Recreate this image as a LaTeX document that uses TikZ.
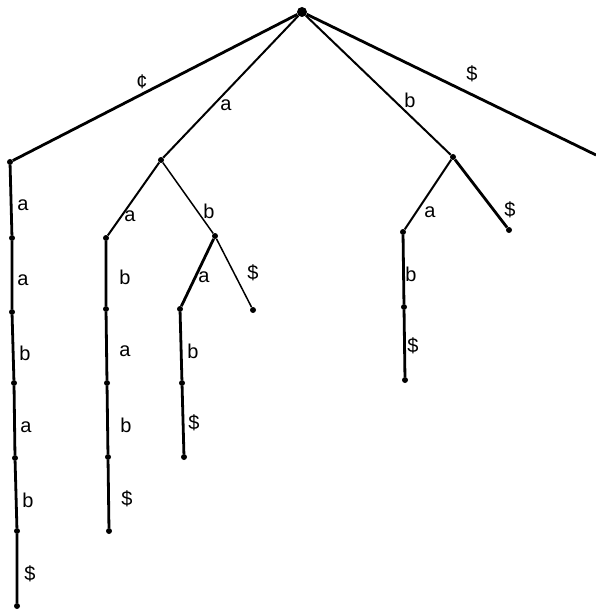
\documentclass[tikz,border=0pt]{standalone}
\usepackage{fontspec}
\setmainfont{Liberation Sans}
\begin{document}
\begin{tikzpicture}[x=1pt,y=-1pt,
  dot/.style={circle,fill=black,inner sep=0pt,minimum size=6pt},
  rootdot/.style={circle,fill=black,inner sep=0pt,minimum size=10pt},
  lbl/.style={font=\fontsize{20}{22}\selectfont,inner sep=0pt},
  heavy/.style={line width=2.8pt},
  medium/.style={line width=2pt},
  light/.style={line width=1.5pt}]
\useasboundingbox (0,0) rectangle (595,612);

% root and its children
\node[rootdot] (r) at (302,12) {};
\node[dot] (c) at (10,162) {};
\node[dot] (A) at (161,160) {};
\node[dot] (B) at (453,157) {};
\coordinate (D) at (596,155);

% chain below the cent edge
\node[dot] (c1) at (12,238) {};
\node[dot] (c2) at (12,312) {};
\node[dot] (c3) at (14,383) {};
\node[dot] (c4) at (15,458) {};
\node[dot] (c5) at (17,531) {};
\node[dot] (c6) at (17,606) {};

% subtree under a
\node[dot] (Aa) at (106,238) {};
\node[dot] (Ab) at (215,236) {};
\node[dot] (Aa1) at (106,309) {};
\node[dot] (Aa2) at (107,383) {};
\node[dot] (Aa3) at (108,457) {};
\node[dot] (Aa4) at (109,531) {};
\node[dot] (Aba) at (180,309) {};
\node[dot] (Abd) at (253,310) {};
\node[dot] (Aba1) at (182,383) {};
\node[dot] (Aba2) at (184,457) {};

% subtree under b
\node[dot] (Ba) at (403,232) {};
\node[dot] (Bd) at (509,230) {};
\node[dot] (Ba1) at (404,307) {};
\node[dot] (Ba2) at (405,380) {};

% edges
\draw[heavy] (r) -- (c);
\draw[medium] (r) -- (A);
\draw[medium] (r) -- (B);
\draw[heavy] (r) -- (D);

\draw[heavy] (c) -- (c1) -- (c2) -- (c3) -- (c4) -- (c5) -- (c6);

\draw[medium] (A) -- (Aa);
\draw[light] (A) -- (Ab);
\draw[heavy] (Aa) -- (Aa1) -- (Aa2) -- (Aa3) -- (Aa4);
\draw[heavy] (Ab) -- (Aba);
\draw[light] (Ab) -- (Abd);
\draw[heavy] (Aba) -- (Aba1) -- (Aba2);

\draw[medium] (B) -- (Ba);
\draw[heavy] (B) -- (Bd);
\draw[heavy] (Ba) -- (Ba1) -- (Ba2);

% edge labels
\node[lbl] (lc) at (142,82) {¢};
\node[lbl] (lA) at (226,105) {a};
\node[lbl] (lB) at (410,100) {b};
\node[lbl] (lD) at (472,74) {\$};

\node[lbl] (lc1) at (23,205) {a};
\node[lbl] (lc2) at (23,280) {a};
\node[lbl] (lc3) at (25,353) {b};
\node[lbl] (lc4) at (26,427) {a};
\node[lbl] (lc5) at (28,500) {b};
\node[lbl] (lc6) at (30,574) {\$};

\node[lbl] (lAa) at (130,216) {a};
\node[lbl] (lAb) at (209,211) {b};
\node[lbl] (lAa1) at (125,277) {b};
\node[lbl] (lAa2) at (125,351) {a};
\node[lbl] (lAa3) at (126,425) {b};
\node[lbl] (lAa4) at (127,499) {\$};
\node[lbl] (lAba) at (204,277) {a};
\node[lbl] (lAbd) at (253,273) {\$};
\node[lbl] (lAba1) at (193,351) {b};
\node[lbl] (lAba2) at (194,423) {\$};

\node[lbl] (lBa) at (430,212) {a};
\node[lbl] (lBd) at (510,210) {\$};
\node[lbl] (lBa1) at (411,274) {b};
\node[lbl] (lBa2) at (413,346) {\$};
\end{tikzpicture}
\end{document}
